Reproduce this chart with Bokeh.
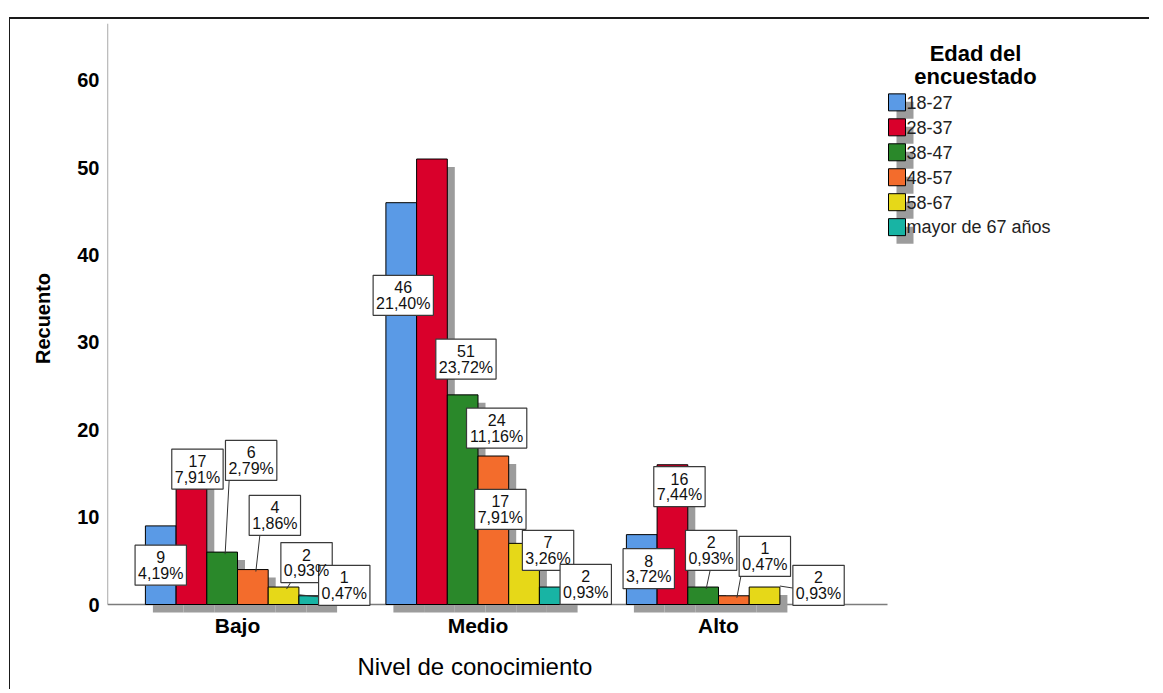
import math
from bokeh.plotting import figure
from bokeh.models import Range1d, FixedTicker, Title, ColumnDataSource
from bokeh.core.properties import value
from bokeh.embed import file_html
from bokeh.resources import INLINE

# ---------------- data ----------------
categories = ["Bajo", "Medio", "Alto"]
age_groups = ["18-27", "28-37", "38-47", "48-57", "58-67", "mayor de 67 años"]
counts_18_27 = [9, 46, 8]
counts_28_37 = [17, 51, 16]
counts_38_47 = [6, 24, 2]
counts_48_57 = [4, 17, 1]
counts_58_67 = [2, 7, 2]
counts_mayor_67 = [1, 2, 0]
y_ticks = [0, 10, 20, 30, 40, 50, 60]

series = [counts_18_27, counts_28_37, counts_38_47, counts_48_57, counts_58_67, counts_mayor_67]
colors = ["#5a9ae6", "#d9002b", "#2a882a", "#f36c2c", "#e6d818", "#18b4a4"]
SHADOW = "#9c9c9c"
FONT = "Liberation Sans"

# ---------------- layout (pixels) ----------------
# label box horizontal shift (px) from bar centre, and label centre height (data units)
label_dx = [[0, 6, 29, 22, 23, 30], [2, 34, 34, 7, 24, 31], [7, 7, 8, 31, 54, 0]]
label_y = [[4.5, 15.5, 16.5, 10.2, 4.8, 2.2], [35.4, 28.1, 20.2, 10.9, 6.2, 2.3], [4.1, 13.5, 6.2, 5.5, 2.2, 0]]
leader = [[0, 0, 1, 1, 1, 1], [0, 0, 0, 0, 0, 0], [0, 0, 1, 1, 1, 0]]

PX_X = 240.5
PX_Y = 8.75
FRAME_L, FRAME_T, FRAME_B = 107, 23, 614
BASE = 605
OX, OY = 10, 19
W, H = 1140, 672
frame_w = W - (FRAME_L - OX)
x_start = -(237 - FRAME_L) / PX_X
x_end = x_start + frame_w / PX_X
y_start = -(FRAME_B - BASE) / PX_Y
y_end = (BASE - FRAME_T) / PX_Y

p = figure(width=W, height=H, x_range=Range1d(x_start, x_end), y_range=Range1d(y_start, y_end),
           output_backend="svg", toolbar_location=None, title=None,
           min_border_left=FRAME_L - OX, min_border_right=0,
           min_border_top=FRAME_T - OY, min_border_bottom=H - (FRAME_B - OY))
p.margin = (17, 0, 0, 9)
p.styles = {"border-top": "2px solid #1a1a1a", "border-left": "1px solid #1a1a1a"}
p.background_fill_color = "white"
p.border_fill_color = "white"
p.outline_line_color = None
p.grid.visible = False
p.extra_x_ranges = {"page": Range1d(FRAME_L, FRAME_L + frame_w)}
p.extra_y_ranges = {"page": Range1d(FRAME_B, FRAME_T)}

# axes
for ax in (p.xaxis[0], p.yaxis[0]):
    ax.axis_line_color = None
    ax.major_tick_line_color = None
    ax.minor_tick_line_color = None
    ax.major_tick_out = 0
    ax.major_tick_in = 0
    ax.major_label_text_font = FONT
    ax.major_label_text_font_style = "bold"
    ax.major_label_text_color = "#000000"
p.xaxis.ticker = FixedTicker(ticks=[0, 1, 2])
p.xaxis.major_label_overrides = {i: c for i, c in enumerate(categories)}
p.xaxis.major_label_text_font_size = "21px"
p.xaxis.major_label_standoff = 0
p.yaxis.ticker = FixedTicker(ticks=y_ticks)
p.yaxis.major_label_text_font_size = "20px"
p.yaxis.major_label_standoff = 8
p.yaxis.axis_label = "Recuento"
p.yaxis.axis_label_text_font = FONT
p.yaxis.axis_label_text_font_size = "20px"
p.yaxis.axis_label_text_font_style = "bold"
p.yaxis.axis_label_text_color = "#000000"
p.yaxis.axis_label_standoff = 20

# x-axis title, placed as a title below the axis
p.add_layout(Title(text="Nivel de conocimiento", align="left", offset=250, standoff=23,
                   text_font=FONT, text_font_size="24px", text_font_style="normal",
                   text_color="#000000"), "below")

# axis lines
p.segment(x0=[FRAME_L, FRAME_L], y0=[FRAME_T, BASE], x1=[FRAME_L, 887], y1=[BASE, BASE],
          line_color="#7c7c7c", line_width=1.3, x_range_name="page", y_range_name="page")

# bars + shadows
BW = 30.7 / PX_X
DXS = 7.5 / PX_X
DYS = 8 / PX_Y
bars = dict(x=[], top=[], color=[], sx=[], stop=[])
labs = dict(x=[], y=[], w=[], c=[], pc=[])
lead = dict(x0=[], y0=[], x1=[], y1=[])
total = sum(sum(s) for s in series)


def tw(s):
    w = 0
    for ch in s:
        w += 0.278 if ch == "," else (0.889 if ch == "%" else 0.556)
    return w * 16


for j, vals in enumerate(series):
    for i, v in enumerate(vals):
        if v <= 0:
            continue
        x = i + (j - 2.5) * BW
        bars["x"].append(x)
        bars["top"].append(v)
        bars["color"].append(colors[j])
        bars["sx"].append(x + DXS)
        bars["stop"].append(v - DYS)
        pct = f"{100 * v / total:.2f}".replace(".", ",") + "%"
        lx = x + label_dx[i][j] / PX_X
        ly = label_y[i][j]
        wpx = max(tw(str(v)), tw(pct)) + 6
        labs["x"].append(lx)
        labs["y"].append(ly)
        labs["w"].append(wpx)
        labs["c"].append(str(v))
        labs["pc"].append(pct)
        if leader[i][j]:
            box_bottom = ly - 20 / PX_Y
            box_left = lx - wpx / 2 / PX_X
            if box_bottom > v + 3 / PX_Y:
                ex = x + 3 / PX_X
                lead["x0"].append(ex + 4 / PX_X)
                lead["y0"].append(box_bottom)
                lead["x1"].append(ex)
                lead["y1"].append(v - 2 / PX_Y)
            else:
                bar_left = x - BW / 2
                bar_right = x + BW / 2
                xa = bar_left if box_left < bar_right else bar_right
                lead["x0"].append(xa)
                lead["y0"].append(v + 1 / PX_Y)
                lead["x1"].append(box_left)
                lead["y1"].append(v - 1 / PX_Y)

bsrc = ColumnDataSource(bars)
p.vbar(x="sx", top="stop", bottom=-DYS, width=BW, source=bsrc, fill_color=SHADOW, line_color=None)
p.vbar(x="x", top="top", bottom=0, width=BW, source=bsrc, fill_color="color", line_color="#000000", line_width=1)

p.segment(x0="x0", y0="y0", x1="x1", y1="y1", source=ColumnDataSource(lead), line_color="#333333", line_width=1)

lsrc = ColumnDataSource(labs)
p.rect(x="x", y="y", width="w", height=40, width_units="screen", height_units="screen", source=lsrc,
       fill_color="white", line_color="#3a3a3a", line_width=1.2)
p.text(x="x", y="y", text="c", source=lsrc, y_offset=-8, text_align="center", text_baseline="middle",
       text_font=value(FONT), text_font_size="16px", text_color="#111111")
p.text(x="x", y="y", text="pc", source=lsrc, y_offset=8, text_align="center", text_baseline="middle",
       text_font=value(FONT), text_font_size="16px", text_color="#111111")

# legend (page pixel coordinates)
leg = dict(x=[], y=[], sx=[], sy=[], color=[], lab=[], tx=[])
for k, (g, c) in enumerate(zip(age_groups, colors)):
    yy = 102 + 25 * k
    leg["x"].append(896.5)
    leg["y"].append(yy)
    leg["sx"].append(904.5)
    leg["sy"].append(yy + 8)
    leg["color"].append(c)
    leg["lab"].append(g)
    leg["tx"].append(906)
gsrc = ColumnDataSource(leg)
p.rect(x="sx", y="sy", width=17, height=17, width_units="screen", height_units="screen", source=gsrc,
       fill_color=SHADOW, line_color=None, x_range_name="page", y_range_name="page")
p.rect(x="x", y="y", width=17, height=17, width_units="screen", height_units="screen", source=gsrc,
       fill_color="color", line_color="#000000", line_width=1, x_range_name="page", y_range_name="page")
p.text(x="tx", y="y", text="lab", source=gsrc, text_align="left", text_baseline="middle",
       text_font=value(FONT), text_font_size="18px", text_color="#222222",
       x_range_name="page", y_range_name="page")
p.text(x=[975, 975], y=[53, 76], text=["Edad del", "encuestado"], text_align="center",
       text_baseline="alphabetic", text_font=value(FONT), text_font_size="22px",
       text_font_style="bold", text_color="#000000", x_range_name="page", y_range_name="page")

open("out.html", "w").write(file_html(p, INLINE))
